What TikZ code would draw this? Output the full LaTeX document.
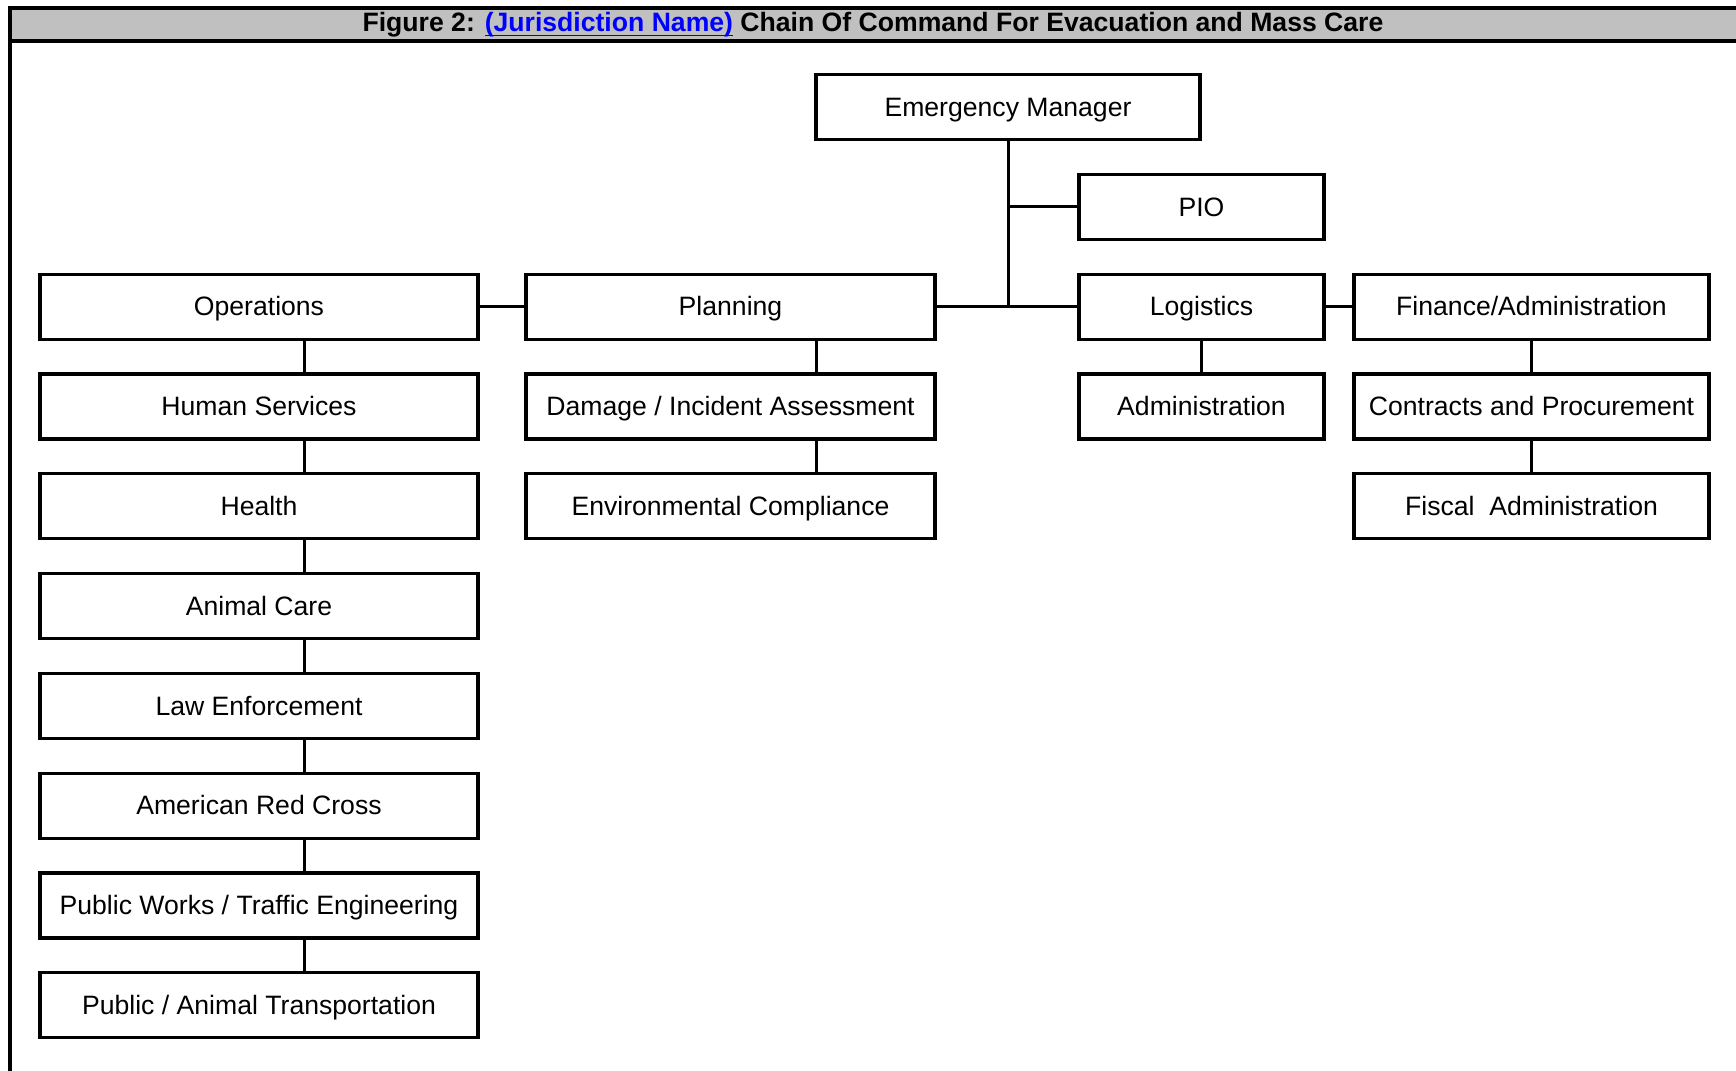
\documentclass[tikz,border=0pt]{standalone}
\usepackage{fontspec}
\setmainfont{Liberation Sans}
\usepackage{tikz}
\usetikzlibrary{positioning}
\definecolor{bandgray}{RGB}{192,192,192}

\begin{document}
\begin{tikzpicture}[x=0.5pt,y=-0.5pt]
\tikzstyle{every node}=[font=\fontsize{13.3}{16}\selectfont,text height=1.12em,text depth=0.2em]
\tikzstyle{box}=[draw,line width=1.6pt,minimum height=32.5pt,inner sep=0pt]
\tikzstyle{link}=[line width=1.5pt]
\useasboundingbox (0,0) rectangle (1736,1071);
% title band
\fill[bandgray] (10,8) rectangle (1736,41);
\draw[line width=1.6pt] (1736,8) -- (10,8) -- (10,1071);
\draw[line width=1.6pt] (10,41) -- (1736,41);
\node (title) at (873,22.5) {\bfseries Figure 2: \textcolor{blue}{\underline{\raisebox{0pt}[\height][0.6pt]{(Jurisdiction Name)}}} Chain Of Command For Evacuation and Mass Care};
% top
\node[box,minimum width=192pt] (em) at (1008,107) {Emergency Manager};
\node[box,minimum width=122.5pt] (pio) at (1201.5,206.8) {PIO};
% sections
\node[box,minimum width=219pt] (ops) at (259,306.6) {Operations};
\node[box,minimum width=204.5pt] (plan) at (730.5,306.6) {Planning};
\node[box,minimum width=122.5pt] (log) at (1201.5,306.6) {Logistics};
\node[box,minimum width=177.5pt] (fin) at (1531.5,306.6) {Finance/Administration};
% operations branch
\node[box,minimum width=219pt] (hs) at (259,406.4) {Human Services};
\node[box,minimum width=219pt] (health) at (259,506.2) {Health};
\node[box,minimum width=219pt] (animal) at (259,606) {Animal Care};
\node[box,minimum width=219pt] (law) at (259,705.8) {Law Enforcement};
\node[box,minimum width=219pt] (redcross) at (259,805.6) {American Red Cross};
\node[box,minimum width=219pt] (works) at (259,905.4) {Public Works / Traffic Engineering};
\node[box,minimum width=219pt] (transport) at (259,1005.2) {Public / Animal Transportation};
% planning branch
\node[box,minimum width=204.5pt] (damage) at (730.5,406.4) {Damage / Incident Assessment};
\node[box,minimum width=204.5pt] (env) at (730.5,506.2) {Environmental Compliance};
% logistics and finance branches
\node[box,minimum width=122.5pt] (admin) at (1201.5,406.4) {Administration};
\node[box,minimum width=177.5pt] (contracts) at (1531.5,406.4) {Contracts and Procurement};
\node[box,minimum width=177.5pt] (fiscal) at (1531.5,506.2) {Fiscal\ \ Administration};
% connectors
\draw[link] (em.south) -- (em.south |- plan.east);
\draw[link] (em.south |- pio.west) -- (pio.west);
\draw[link] (ops.east) -- (plan.west);
\draw[link] (plan.east) -- (log.west);
\draw[link] (log.east) -- (fin.west);
\draw[link] ([xshift=22.5pt]ops.south) -- ([xshift=22.5pt]hs.north);
\draw[link] ([xshift=22.5pt]hs.south) -- ([xshift=22.5pt]health.north);
\draw[link] ([xshift=22.5pt]health.south) -- ([xshift=22.5pt]animal.north);
\draw[link] ([xshift=22.5pt]animal.south) -- ([xshift=22.5pt]law.north);
\draw[link] ([xshift=22.5pt]law.south) -- ([xshift=22.5pt]redcross.north);
\draw[link] ([xshift=22.5pt]redcross.south) -- ([xshift=22.5pt]works.north);
\draw[link] ([xshift=22.5pt]works.south) -- ([xshift=22.5pt]transport.north);
\draw[link] ([xshift=42.75pt]plan.south) -- ([xshift=42.75pt]damage.north);
\draw[link] ([xshift=42.75pt]damage.south) -- ([xshift=42.75pt]env.north);
\draw[link] (log.south) -- (admin.north);
\draw[link] (fin.south) -- (contracts.north);
\draw[link] (contracts.south) -- (fiscal.north);
\end{tikzpicture}
\end{document}
